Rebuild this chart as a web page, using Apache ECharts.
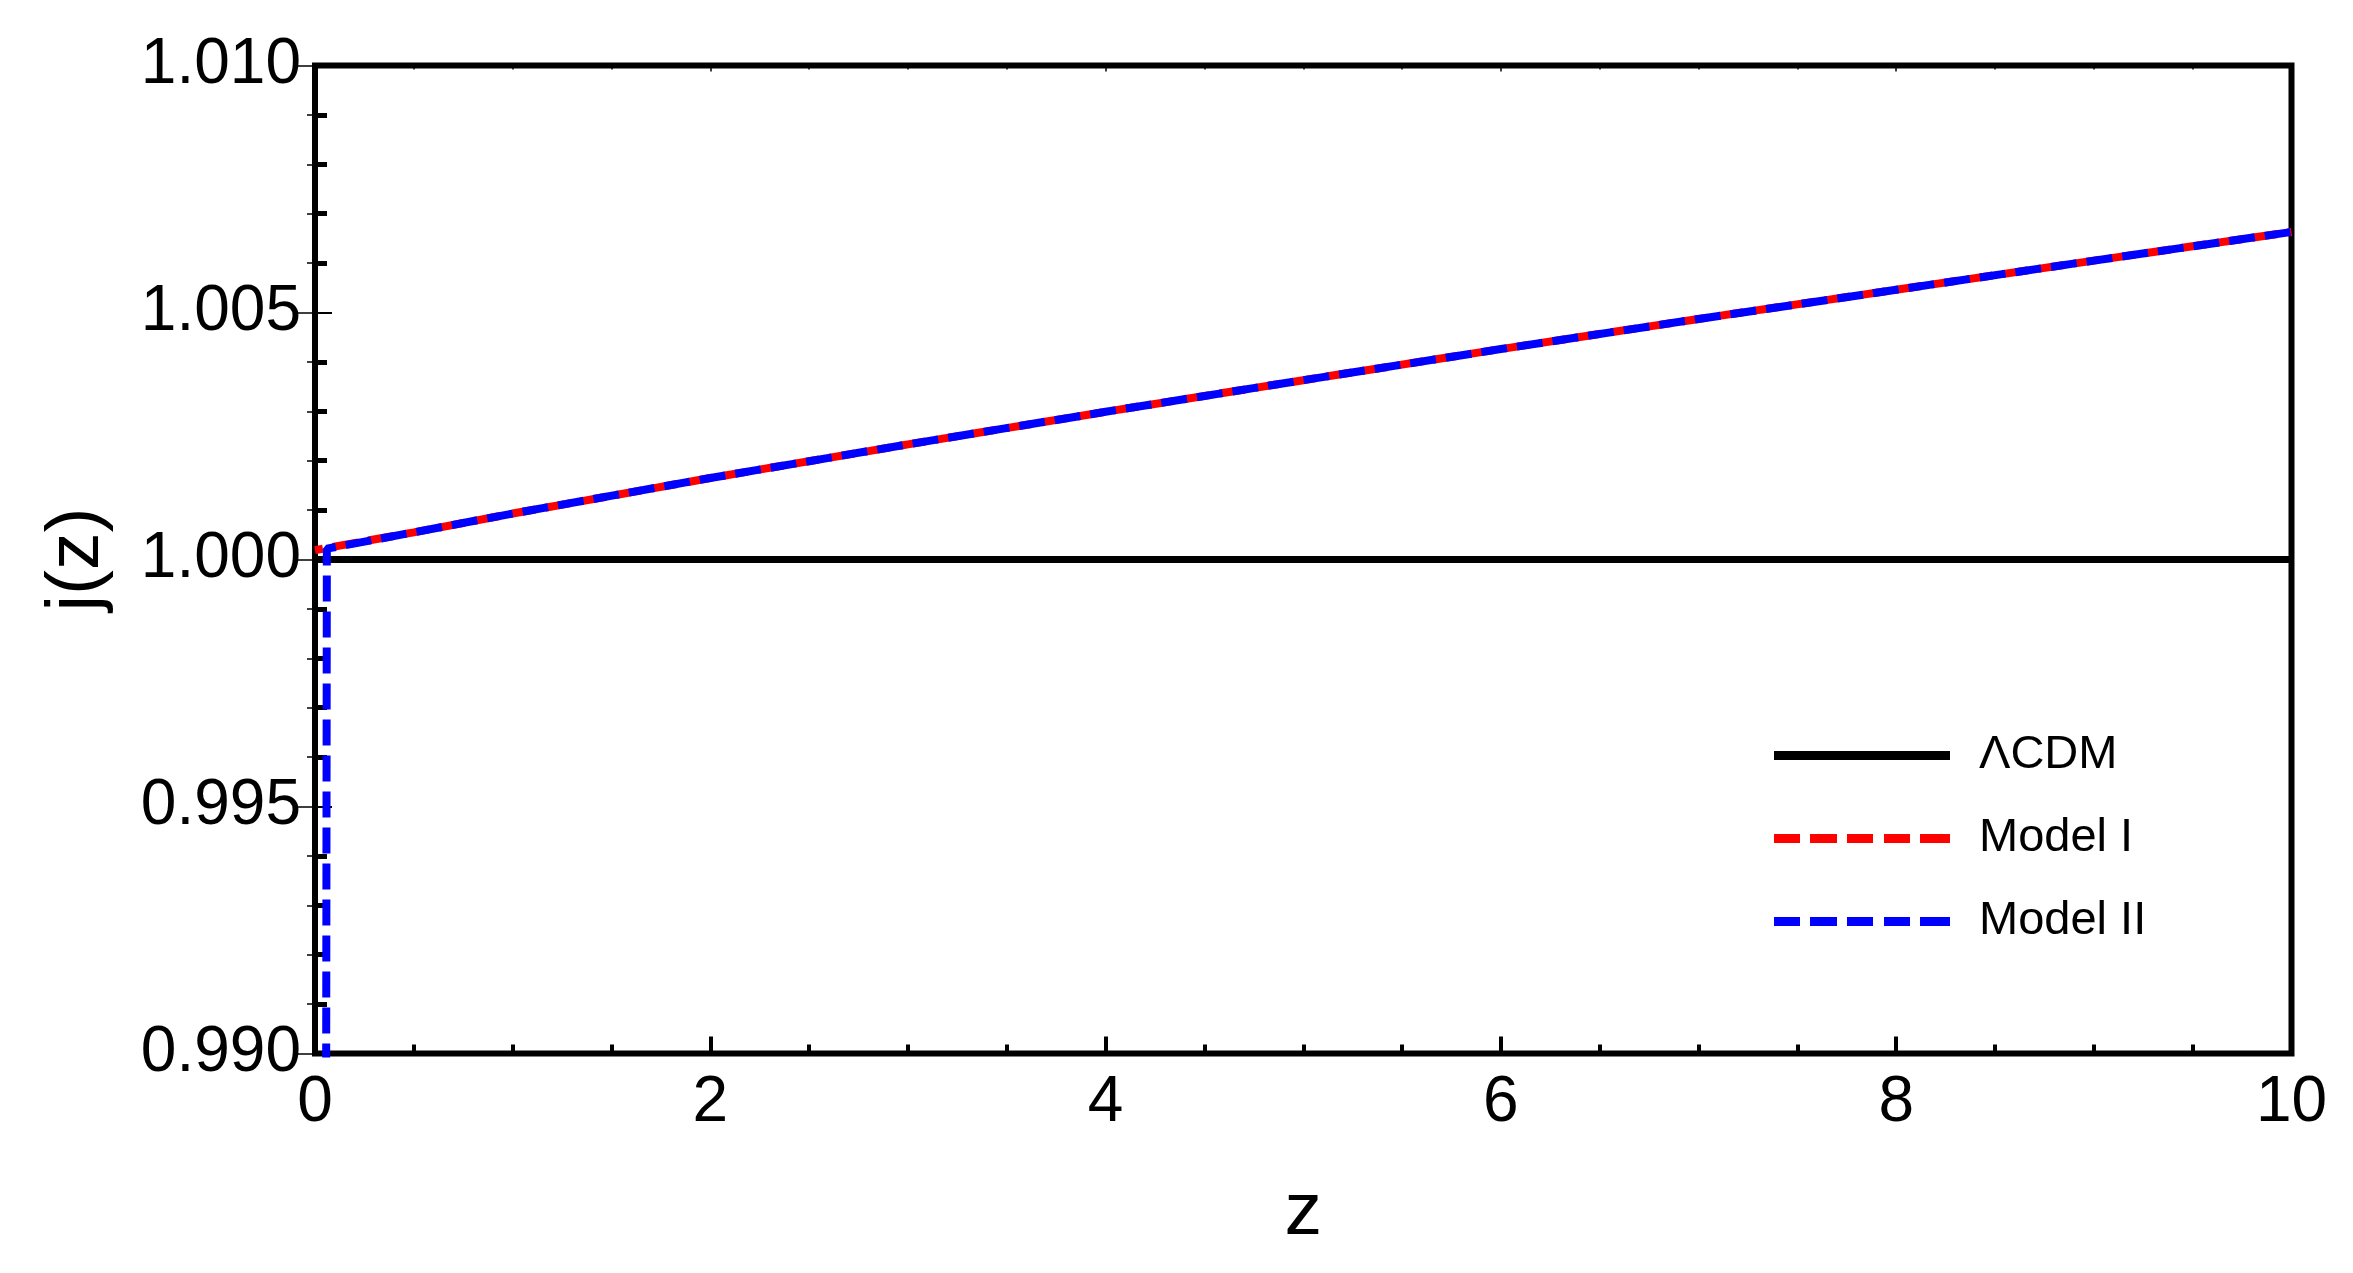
<!DOCTYPE html>
<html>
<head>
<meta charset="utf-8">
<script src="https://cdn.jsdelivr.net/npm/echarts@6/dist/echarts.min.js"></script>
<style>
  html, body { margin: 0; padding: 0; background: #fff; }
  #chart { width: 2353px; height: 1273px; }
</style>
</head>
<body>
<div id="chart"></div>
<script>
// values
const seriesNames = ["ΛCDM", "Model I", "Model II"];
const lcdmZ = [0, 10];
const lcdmJ = [1.0, 1.0];
const model1Z = [0, 0.5, 1, 2, 3, 4, 5, 6, 7, 8, 9, 10];
const model1J = [1.00019, 1.00055, 1.00093, 1.00165, 1.00233, 1.00299, 1.00363, 1.00426, 1.00487, 1.00546, 1.00605, 1.00663];
const model2Z = [0.05, 0.06, 0.5, 1, 2, 3, 4, 5, 6, 7, 8, 9, 10];
const model2J = [0.97, 1.00022, 1.00055, 1.00093, 1.00165, 1.00233, 1.00299, 1.00363, 1.00426, 1.00487, 1.00546, 1.00605, 1.00663];
const xTicks = [0, 2, 4, 6, 8, 10];
const yTicks = ["0.990", "0.995", "1.000", "1.005", "1.010"];

const font = "'Liberation Sans', Arial, sans-serif";
const pairs = (xs, ys) => xs.map((x, i) => [x, ys[i]]);

// legend icons: a solid bar and a five-dash bar
const solidIcon = "path://M0,0H176V9H0Z";
const dashIcon = "path://M0,0H26V9H0Z M36,0H63V9H36Z M73,0H99V9H73Z M110,0H136V9H110Z M146,0H176V9H146Z";

const chart = echarts.init(document.getElementById("chart"), null, { renderer: "canvas" });

const hidden = { show: false };

chart.setOption({
  animation: false,
  backgroundColor: "#fff",
  grid: {
    left: 315,
    right: 61.5,
    top: 65.5,
    bottom: 219.5,
    show: true,
    borderColor: "#000",
    borderWidth: 6,
    backgroundColor: "transparent"
  },
  legend: {
    orient: "vertical",
    left: 1769,
    top: 727,
    itemWidth: 176,
    itemHeight: 9,
    itemGap: 36,
    data: [
      { name: seriesNames[0], icon: solidIcon },
      { name: seriesNames[1], icon: dashIcon },
      { name: seriesNames[2], icon: dashIcon }
    ],
    textStyle: {
      fontFamily: font,
      fontSize: 47,
      lineHeight: 47,
      color: "#000",
      padding: [0, 0, 0, 24]
    }
  },
  xAxis: [
    {
      type: "value",
      min: 0,
      max: 10,
      interval: 2,
      position: "bottom",
      name: "z",
      nameLocation: "middle",
      nameGap: 122,
      nameTextStyle: { fontFamily: font, fontSize: 75, color: "#000" },
      axisLine: hidden,
      splitLine: hidden,
      axisTick: { inside: true, length: 17, lineStyle: { color: "#000", width: 4 } },
      minorTick: { show: true, splitNumber: 4, length: 9, lineStyle: { color: "#000", width: 4 } },
      axisLabel: {
        margin: 18,
        fontFamily: font,
        fontSize: 64,
        color: "#000",
        formatter: (v) => (xTicks.includes(v) ? String(v) : "")
      }
    },
    {
      type: "value",
      min: 0,
      max: 10,
      interval: 2,
      position: "top",
      axisLine: hidden,
      splitLine: hidden,
      axisLabel: hidden,
      axisTick: { inside: true, length: 6, lineStyle: { color: "#000", width: 1.5 } },
      minorTick: { show: true, splitNumber: 4, length: 4, lineStyle: { color: "#000", width: 1.5 } }
    }
  ],
  yAxis: [
    {
      type: "value",
      min: 0.990,
      max: 1.010,
      interval: 0.005,
      position: "left",
      name: "j(z)",
      nameLocation: "middle",
      nameGap: 200,
      nameTextStyle: { fontFamily: font, fontSize: 75, color: "#000" },
      axisLine: hidden,
      splitLine: hidden,
      axisTick: { inside: true, length: 17, lineStyle: { color: "#000", width: 2 } },
      minorTick: { show: true, splitNumber: 5, length: 12, lineStyle: { color: "#000", width: 5 } },
      axisLabel: {
        margin: 14,
        fontFamily: font,
        fontSize: 64,
        color: "#000",
        formatter: (v) => {
          const s = v.toFixed(3);
          return yTicks.includes(s) ? s : "";
        }
      }
    },
    {
      type: "value",
      min: 0.990,
      max: 1.010,
      interval: 0.005,
      position: "right",
      axisLine: hidden,
      splitLine: hidden,
      axisLabel: hidden,
      axisTick: { inside: true, length: 18, lineStyle: { color: "#000", width: 1.5 } },
      minorTick: { show: true, splitNumber: 5, length: 8, lineStyle: { color: "#000", width: 1.5 } }
    }
  ],
  series: [
    {
      name: seriesNames[0],
      type: "line",
      data: pairs(lcdmZ, lcdmJ),
      showSymbol: false,
      symbol: "none",
      lineStyle: { color: "#000", width: 7 },
      itemStyle: { color: "#000" },
      z: 2
    },
    {
      name: seriesNames[1],
      type: "line",
      data: pairs(model1Z, model1J),
      showSymbol: false,
      symbol: "none",
      lineStyle: { color: "#ff0000", width: 8, type: [26, 10], dashOffset: 18 },
      itemStyle: { color: "#ff0000" },
      z: 3
    },
    {
      name: seriesNames[2],
      type: "line",
      data: pairs(model2Z, model2J),
      showSymbol: false,
      symbol: "none",
      clip: true,
      lineStyle: { color: "#0000ff", width: 8, type: [26, 10] },
      itemStyle: { color: "#0000ff" },
      z: 4
    }
  ]
});
</script>
</body>
</html>
